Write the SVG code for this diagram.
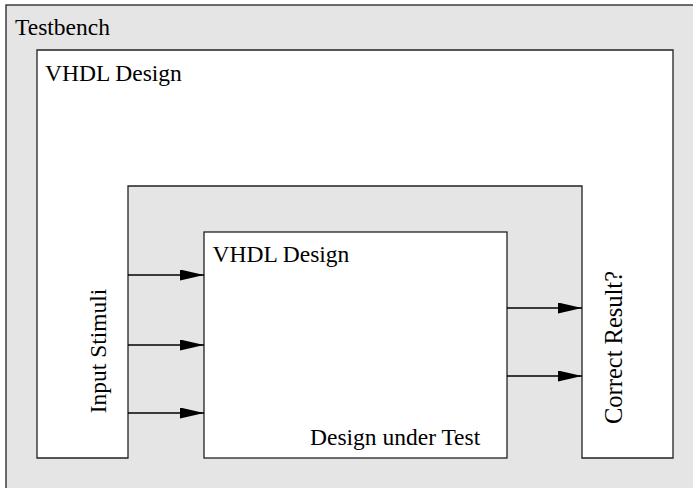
<svg xmlns="http://www.w3.org/2000/svg" width="693" height="488" viewBox="0 0 693 488">
<defs>
<style>
.box{stroke:#222;stroke-width:1.3;}
.gray{fill:#e5e5e5;}
.white{fill:#fff;}
.t{font-family:"Liberation Serif","Times New Roman",serif;font-size:23.5px;fill:#000;}
.edge{stroke:#000;stroke-width:1.3;fill:none;marker-end:url(#ah);}
</style>
<marker id="ah" markerUnits="userSpaceOnUse" markerWidth="26" markerHeight="12" refX="24" refY="5.5" orient="auto">
<path d="M0,0 L24,5.5 L0,11 Z" fill="#000"/>
</marker>
</defs>
<g id="testbench">
<rect class="box gray" x="6" y="5" width="700" height="500"/>
<text class="t" x="15" y="35">Testbench</text>
</g>
<g id="vhdl-outer">
<path class="box white" d="M37,50 H673 V458 H582 V186 H128 V458 H37 Z"/>
<text class="t" x="45" y="81">VHDL Design</text>
</g>
<g id="input-stimuli">
<text class="t" transform="translate(106,351) rotate(-90)" text-anchor="middle">Input Stimuli</text>
</g>
<g id="correct-result">
<text class="t" transform="translate(622,347.5) rotate(-90)" text-anchor="middle" style="font-size:24.5px">Correct Result?</text>
</g>
<g id="dut">
<rect class="box white" x="204" y="232" width="303" height="226"/>
<text class="t" x="212.5" y="262">VHDL Design</text>
<text class="t" x="310" y="445">Design under Test</text>
</g>
<g id="connectors">
<line class="edge" x1="128" y1="275" x2="204" y2="275"/>
<line class="edge" x1="128" y1="345" x2="204" y2="345"/>
<line class="edge" x1="128" y1="413" x2="204" y2="413"/>
<line class="edge" x1="507" y1="308" x2="582" y2="308"/>
<line class="edge" x1="507" y1="376" x2="582" y2="376"/>
</g>
</svg>
